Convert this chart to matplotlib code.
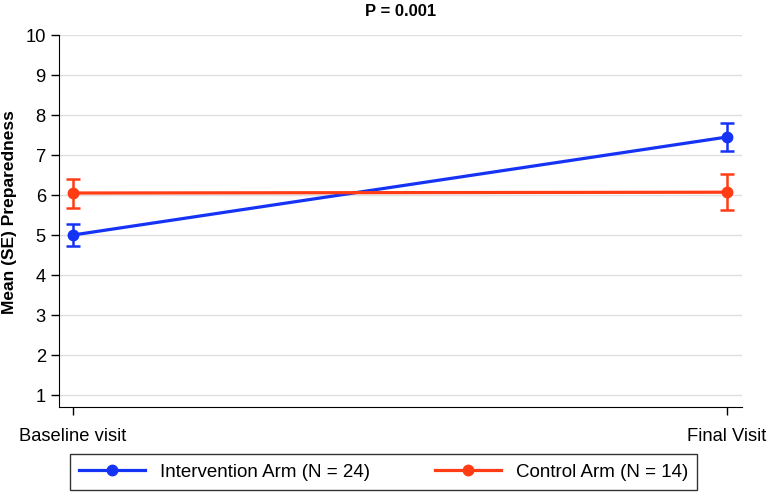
import matplotlib
matplotlib.use('Agg')
import matplotlib.pyplot as plt
from matplotlib.lines import Line2D

plt.rcParams['font.family'] = 'Liberation Sans'

visits = ['Baseline visit', 'Final Visit']
pos = [0, 1]
interv_mean = [5.0, 7.45]
interv_lo = [4.72, 7.1]
interv_hi = [5.27, 7.8]
ctrl_mean = [6.05, 6.07]
ctrl_lo = [5.68, 5.62]
ctrl_hi = [6.4, 6.53]
labels = ['Intervention Arm (N = 24)', 'Control Arm (N = 14)']

blue = '#1433f5'
red = '#ff3c14'

fig = plt.figure(figsize=(7.67, 4.94), dpi=100)
ax = fig.add_axes([0.0769, 0.1761, 0.8905, 0.753])

def draw(mean, lo, hi, color, label):
    err = [[m - l for m, l in zip(mean, lo)], [h - m for m, h in zip(mean, hi)]]
    ax.errorbar(pos, mean, yerr=err, color=color, lw=2.3, marker='o', ms=7.5,
                capsize=5, capthick=1.8, elinewidth=1.8, label=label, zorder=3)

draw(interv_mean, interv_lo, interv_hi, blue, labels[0])
draw(ctrl_mean, ctrl_lo, ctrl_hi, red, labels[1])

ax.set_xlim(-0.0214, 1.0229)
ax.set_ylim(0.7, 10)
ax.set_yticks(range(1, 11))
ax.set_xticks(pos)
ax.set_xticklabels(visits)
ax.grid(axis='y', color='#e0e0e0', lw=1)
ax.set_axisbelow(True)
for s in ['top', 'right']:
    ax.spines[s].set_visible(False)
ax.tick_params(axis='both', length=6, width=1, labelsize=13.2)
ax.tick_params(axis='x', pad=9)
ax.set_ylabel('Mean (SE) Preparedness', fontsize=12.5, fontweight='bold')
ax.yaxis.set_label_coords(-0.061, 0.524)
ax.set_title('P = 0.001', fontsize=12, fontweight='bold', pad=14)

hs = [Line2D([], [], color=blue, lw=2.3, marker='o', ms=7.5),
      Line2D([], [], color=red, lw=2.3, marker='o', ms=7.5)]
leg = fig.legend(hs, labels, loc='center', bbox_to_anchor=(0.5, 0.0445), ncol=2,
                 fontsize=13.5, frameon=True, fancybox=False, edgecolor='black',
                 handlelength=3.5, columnspacing=3.5, borderpad=0.5)
leg.get_frame().set_linewidth(1)

fig.savefig('out.png', dpi=100)
